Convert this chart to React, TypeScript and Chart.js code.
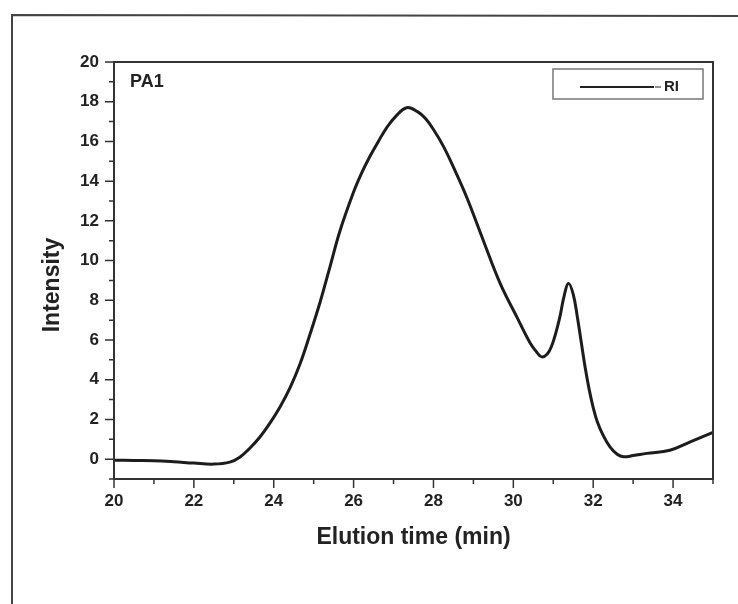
import React, { useEffect, useRef } from "react";
import { Chart, registerables } from "chart.js";

Chart.register(...registerables);

const FONT = "'Liberation Sans', Arial, sans-serif";

const elutionTime = [20, 20.5, 21, 21.5, 22, 22.5, 22.9, 23.15, 23.4, 23.65, 23.9, 24.15, 24.41, 24.66, 24.91, 25.16, 25.41, 25.66, 25.99, 26.2, 26.41, 26.62, 26.83, 27.05, 27.33, 27.6, 27.8, 28.0, 28.25, 28.5, 28.83, 29.25, 29.67, 30.09, 30.42, 30.6, 30.71, 30.85, 30.96, 31.07, 31.17, 31.27, 31.38, 31.5, 31.6, 31.7, 31.8, 31.9, 32.0, 32.1, 32.25, 32.42, 32.6, 32.76, 33.0, 33.34, 33.92, 34.43, 35];
const riIntensity = [-0.05, -0.07, -0.08, -0.13, -0.2, -0.25, -0.15, 0.1, 0.55, 1.1, 1.8, 2.6, 3.6, 4.8, 6.3, 7.9, 9.7, 11.5, 13.4, 14.4, 15.25, 16.0, 16.7, 17.25, 17.7, 17.5, 17.15, 16.6, 15.75, 14.7, 13.2, 11.0, 8.85, 7.15, 5.85, 5.35, 5.15, 5.3, 5.7, 6.4, 7.2, 8.2, 8.85, 8.3, 7.2, 5.9, 4.6, 3.5, 2.6, 1.9, 1.2, 0.62, 0.25, 0.12, 0.18, 0.29, 0.45, 0.87, 1.35];

const X_MIN = 20;
const X_MAX = 35;
const Y_MIN = -1;
const Y_MAX = 20;
const seriesLabel = "RI";
const sampleLabel = "PA1";
const xTitle = "Elution time (min)";
const yTitle = "Intensity";

const framePlugin = {
  id: "frameDeco",
  afterDraw(chart: any) {
    const { ctx, chartArea: a, scales } = chart;
    const x = scales.x;
    const y = scales.y;
    ctx.save();
    // outer scanned page border
    ctx.strokeStyle = "#444";
    ctx.lineWidth = 2;
    ctx.beginPath();
    ctx.moveTo(12, 604);
    ctx.lineTo(12, 15);
    ctx.lineTo(738, 16);
    ctx.stroke();

    // plot frame
    ctx.strokeStyle = "#333";
    ctx.lineWidth = 2;
    ctx.strokeRect(a.left, a.top, a.right - a.left, a.bottom - a.top);

    // ticks
    ctx.lineWidth = 1.5;
    ctx.beginPath();
    for (let v = X_MIN; v <= X_MAX; v++) {
      const px = x.getPixelForValue(v);
      const len = v % 2 === 0 ? 9 : 5;
      ctx.moveTo(px, a.bottom);
      ctx.lineTo(px, a.bottom + len);
    }
    for (let v = Y_MIN; v <= Y_MAX; v++) {
      const py = y.getPixelForValue(v);
      const len = v % 2 === 0 ? 9 : 5;
      ctx.moveTo(a.left, py);
      ctx.lineTo(a.left - len, py);
    }
    ctx.stroke();

    // sample label
    ctx.fillStyle = "#222";
    ctx.font = `bold 18px ${FONT}`;
    ctx.textBaseline = "alphabetic";
    ctx.textAlign = "left";
    ctx.fillText(sampleLabel, 130, 87);

    // legend
    ctx.strokeStyle = "#777";
    ctx.lineWidth = 1.5;
    ctx.strokeRect(553, 69, 150, 30);
    ctx.strokeStyle = "#222";
    ctx.lineWidth = 2;
    ctx.beginPath();
    ctx.moveTo(580, 87);
    ctx.lineTo(654, 87);
    ctx.stroke();
    ctx.lineWidth = 1;
    ctx.beginPath();
    ctx.moveTo(655, 87);
    ctx.lineTo(661, 87);
    ctx.stroke();
    ctx.font = `bold 15px ${FONT}`;
    ctx.textBaseline = "middle";
    ctx.fillText(seriesLabel, 664, 87);

    // y title
    ctx.font = `bold 23px ${FONT}`;
    ctx.translate(53, 285);
    ctx.rotate(-Math.PI / 2);
    ctx.textAlign = "center";
    ctx.textBaseline = "middle";
    ctx.fillText(yTitle, 0, 0);
    ctx.restore();
  },
};

export default function App() {
  const ref = useRef<HTMLCanvasElement>(null);
  useEffect(() => {
    if (!ref.current) return;
    const chart = new Chart(ref.current, {
      type: "line",
      data: {
        datasets: [
          {
            label: seriesLabel,
            data: elutionTime.map((t, i) => ({ x: t, y: riIntensity[i] })),
            borderColor: "#1c1c1c",
            borderWidth: 3,
            pointRadius: 0,
            tension: 0.4,
            fill: false,
          },
        ],
      },
      options: {
        animation: false,
        responsive: false,
        devicePixelRatio: 1,
        layout: { padding: { left: 39, top: 62, right: 25, bottom: 53 } },
        plugins: { legend: { display: false }, tooltip: { enabled: false } },
        scales: {
          x: {
            type: "linear",
            min: X_MIN,
            max: X_MAX,
            afterFit: (s: any) => {
              s.height = 72;
            },
            grid: { display: false, drawTicks: false },
            border: { display: false },
            ticks: {
              stepSize: 1,
              autoSkip: false,
              maxRotation: 0,
              padding: 12,
              color: "#222",
              font: { family: FONT, size: 17, weight: "bold" },
              callback: (v: any) => (Number(v) % 2 === 0 ? String(v) : ""),
            },
            title: {
              display: true,
              text: xTitle,
              color: "#222",
              padding: 0,
              font: { family: FONT, size: 23, weight: "bold" },
            },
          },
          y: {
            type: "linear",
            min: Y_MIN,
            max: Y_MAX,
            afterFit: (s: any) => {
              s.width = 75;
            },
            grid: { display: false, drawTicks: false },
            border: { display: false },
            ticks: {
              stepSize: 1,
              autoSkip: false,
              padding: 15,
              color: "#222",
              font: { family: FONT, size: 17, weight: "bold" },
              callback: (v: any) => (Number(v) % 2 === 0 && Number(v) >= 0 ? String(v) : ""),
            },
            title: { display: false },
          },
        },
      },
      plugins: [framePlugin],
    });
    return () => chart.destroy();
  }, []);
  return (
    <div style={{ position: "absolute", left: 0, top: 0, width: 738, height: 604, background: "#fff" }}>
      <canvas ref={ref} width={738} height={604} style={{ display: "block" }} />
    </div>
  );
}
